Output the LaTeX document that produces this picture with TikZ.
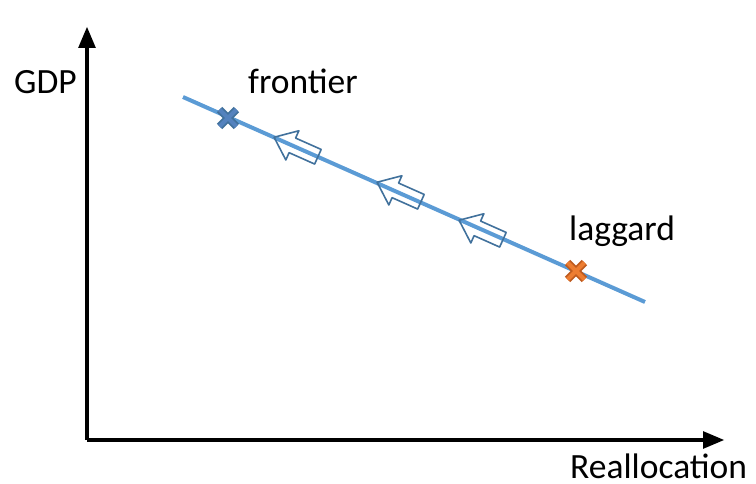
\documentclass[tikz,border=0pt]{standalone}
\usepackage{fontspec}
\setmainfont{Carlito}
\usetikzlibrary{shapes.misc, arrows}
\definecolor{lineblue}{RGB}{91,155,213}
\definecolor{darkblue}{RGB}{65,113,156}
\definecolor{markblue}{RGB}{84,130,190}
\definecolor{markorange}{RGB}{237,125,49}
\definecolor{darkorange}{RGB}{190,90,30}
\tikzstyle{axis} = [line width=4pt, ->, >=triangle 45]
\tikzstyle{txt} = [font=\fontsize{35.5}{40}\selectfont, inner sep=0pt, anchor=base west]
\tikzstyle{move} = [draw=darkblue, line width=1.6pt, line join=round]
\tikzstyle{crossmark} = [cross out, minimum size=15pt, inner sep=0pt, line width=1.8pt, double distance=4pt]

\begin{document}
\begin{tikzpicture}[x=1pt, y=1pt]
    \useasboundingbox (0,0) rectangle (756,483);

    % axes
    \coordinate (origin) at (87,43);
    \coordinate (ytop) at (87,456);
    \coordinate (xend) at (724,43);
    \draw [axis] (origin) -- (ytop);
    \draw [axis] (origin) -- (xend);

    \node (gdp) [txt] at (14,389) {GDP};
    \node (realloc) [txt, text depth=0pt] at (570,5) {Reallocation};

    % the line and the moves along it
    \coordinate (start) at (183,386);
    \coordinate (stop) at (645,181);
    \draw [lineblue, line width=4pt] (start) -- (stop);

    \foreach \x/\y in {296/336, 399/291, 481/253}
        \draw [move, shift={(\x,\y)}, rotate=156]
            (24,0) -- (4,16) -- (4,8) -- (-24,8) -- (-24,-8) -- (4,-8) -- (4,-16) -- cycle;

    % the two ends
    \node (front) [crossmark, draw=darkblue, double=markblue] at (228,365) {};
    \node (lag) [crossmark, draw=darkorange, double=markorange] at (576,212) {};

    \node (frontier) [txt] at (248,389) {frontier};
    \node (laggard) [txt] at (569,243) {laggard};

  \end{tikzpicture}
\end{document}
